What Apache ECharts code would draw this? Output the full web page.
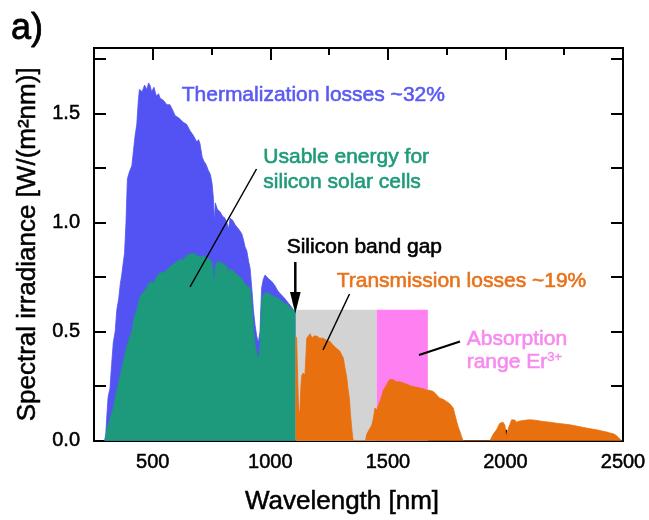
<!DOCTYPE html>
<html>
<head>
<meta charset="utf-8">
<script src="https://cdn.jsdelivr.net/npm/echarts@6/dist/echarts.min.js"></script>
<style>
html,body{margin:0;padding:0;background:#fff;}
#chart{width:649px;height:520px;}
</style>
</head>
<body>
<div id="chart"></div>
<script>
// ---- Data ----
// Full AM1.5 spectrum below the silicon band gap (thermalization losses, blue)
const blueWavelength = [295,300,305,310,318,325,332,340,347,355,362,368,375,380,386,392,400,411,418,425,432,438,443,455,465,475,482,488,495,505,515,525,531,545,560,573,587,595,610,629,644,659,672,687,695,701,710,718,725,736,745,752,758,762,766,775,786,796,807,815,822,829,840,850,857,865,878,886,892,900,908,914,921,928,935,942,949,956,960,963,970,978,985,995,1006,1020,1030,1041,1055,1070,1085,1098,1107];
const blueIrradiance = [0,0.03,0.12,0.2,0.24,0.35,0.45,0.5,0.6,0.65,0.72,0.76,0.82,0.86,1.0,1.2,1.23,1.26,1.33,1.40,1.45,1.55,1.61,1.60,1.63,1.61,1.64,1.63,1.60,1.62,1.58,1.59,1.57,1.56,1.54,1.54,1.51,1.49,1.48,1.46,1.45,1.42,1.40,1.37,1.38,1.36,1.30,1.28,1.27,1.24,1.22,1.18,1.11,1.00,1.09,1.06,1.05,1.03,1.02,1.00,0.97,1.02,1.01,0.99,0.99,0.97,0.95,0.92,0.89,0.87,0.82,0.79,0.70,0.60,0.53,0.48,0.45,0.50,0.62,0.70,0.74,0.76,0.75,0.74,0.73,0.71,0.69,0.675,0.66,0.64,0.62,0.60,0.59];

// Usable energy for silicon solar cells (green)
const greenWavelength = [298,305,315,332,345,355,368,380,392,403,411,420,432,446,460,474,481,495,502,515,531,545,559,575,590,602,615,630,645,659,672,687,701,715,725,744,752,758,762,766,775,786,800,815,822,829,840,850,860,871,880,892,900,914,921,928,935,942,949,956,960,963,970,985,1000,1015,1030,1041,1055,1070,1085,1098,1107];
const greenIrradiance = [0,0.05,0.09,0.15,0.22,0.27,0.33,0.39,0.44,0.48,0.50,0.56,0.60,0.66,0.68,0.70,0.72,0.73,0.72,0.75,0.77,0.77,0.78,0.80,0.81,0.82,0.83,0.83,0.85,0.855,0.86,0.85,0.84,0.85,0.84,0.83,0.82,0.75,0.72,0.80,0.82,0.82,0.81,0.80,0.77,0.79,0.78,0.77,0.76,0.75,0.74,0.72,0.71,0.70,0.62,0.52,0.44,0.40,0.37,0.43,0.55,0.64,0.67,0.68,0.67,0.66,0.655,0.645,0.635,0.625,0.61,0.60,0.59];

// Transmission losses above the band gap (orange)
const orangeWavelength = [1107,1112,1116,1120,1125,1130,1134,1140,1147,1150,1155,1162,1169,1178,1185,1197,1210,1225,1240,1254,1265,1275,1285,1296,1305,1310,1318,1325,1330,1336,1341,1346,1350,1353,1405,1410,1420,1431,1438,1445,1452,1459,1466,1473,1480,1486,1494,1501,1508,1515,1522,1536,1551,1565,1579,1600,1622,1645,1664,1680,1693,1707,1721,1735,1749,1763,1778,1785,1792,1800,1806,1813,1820,1934,1948,1962,1969,1976,1984,1990,1998,2003,2008,2013,2019,2026,2033,2040,2047,2054,2061,2076,2090,2104,2118,2140,2161,2190,2218,2245,2274,2300,2331,2360,2388,2410,2430,2445,2459,2470,2480,2494];
const orangeIrradiance = [0.48,0.47,0.30,0.15,0.12,0.25,0.30,0.31,0.30,0.36,0.47,0.48,0.49,0.47,0.48,0.48,0.47,0.47,0.46,0.455,0.44,0.43,0.42,0.41,0.39,0.38,0.33,0.29,0.24,0.195,0.12,0.06,0.02,0,0,0.03,0.05,0.07,0.10,0.15,0.14,0.16,0.18,0.20,0.23,0.24,0.255,0.27,0.28,0.275,0.28,0.27,0.27,0.265,0.26,0.25,0.245,0.24,0.233,0.23,0.226,0.21,0.195,0.19,0.18,0.17,0.15,0.12,0.09,0.06,0.044,0.02,0,0,0.03,0.05,0.058,0.08,0.089,0.085,0.07,0.02,0.02,0.06,0.075,0.096,0.10,0.095,0.085,0.088,0.09,0.093,0.095,0.096,0.095,0.092,0.088,0.085,0.08,0.077,0.073,0.068,0.061,0.055,0.05,0.045,0.04,0.035,0.032,0.025,0.015,0];

// Shaded ranges: [start nm, end nm, height]
const bandGapRange = [1107, 1452, 0.6];
const erbiumRange = [1452, 1670, 0.6];

// Axis ticks
const xMajorTicks = [500, 1000, 1500, 2000, 2500];
const xMinorTicks = [750, 1250, 1750, 2250];
const yTicks = [0.25, 0.5, 0.75, 1.0, 1.25, 1.5, 1.75];
const yLabels = [0, 0.5, 1.0, 1.5];

const FONT = 'Liberation Sans, Arial, Helvetica, sans-serif';
const C_BLUE = '#5353F3';
const C_GREEN = '#1C9A7B';
const C_ORANGE = '#E8700F';
const C_GRAY = '#D3D3D3';
const C_PINK = '#FF80F0';

function zip(a, b) { return a.map((v, i) => [v, b[i]]); }

const chart = echarts.init(document.getElementById('chart'), null, {renderer: 'canvas'});

const axisLine = {show: true, onZero: false, lineStyle: {color: '#000', width: 2}};

function xAxisDef(pos, ticks, len, showLabels, name) {
  return {
    type: 'value', min: 250, max: 2500, position: pos,
    axisLine: axisLine,
    axisTick: {show: true, inside: true, length: len, customValues: ticks, lineStyle: {color: '#000', width: 2}},
    axisLabel: showLabels ? {show: true, customValues: xMajorTicks, margin: 12, color: '#000', fontSize: 20, fontFamily: FONT,
      textBorderColor: '#000', textBorderWidth: 0.5, formatter: v => String(v)} : {show: false},
    splitLine: {show: false},
    name: name || '',
    nameLocation: 'middle', nameGap: 48,
    nameTextStyle: {fontSize: 26, fontFamily: FONT, color: '#000', padding: [0, 33, 0, 0], textBorderColor: '#000', textBorderWidth: 0.5}
  };
}
function yAxisDef(pos, showLabels, name) {
  return {
    type: 'value', min: 0, max: 1.8, position: pos,
    axisLine: axisLine,
    axisTick: {show: true, inside: true, length: 12, customValues: yTicks, lineStyle: {color: '#000', width: 2}},
    axisLabel: showLabels ? {show: true, customValues: yLabels, margin: 14, color: '#000', fontSize: 20, fontFamily: FONT,
      textBorderColor: '#000', textBorderWidth: 0.5, formatter: v => v.toFixed(1)} : {show: false},
    splitLine: {show: false},
    name: name || '',
    nameLocation: 'middle', nameGap: 48,
    nameTextStyle: {fontSize: 26, fontFamily: FONT, color: '#000', textBorderColor: '#000', textBorderWidth: 0.5}
  };
}

function areaSeries(name, data, color, z) {
  return {
    name: name, type: 'line', data: data, xAxisIndex: 0, yAxisIndex: 0,
    showSymbol: false, symbol: 'none', z: z, silent: true,
    lineStyle: {color: color, width: 0.8},
    areaStyle: {color: color, opacity: 1}
  };
}

function label(x, y, text, color, extra) {
  return Object.assign({type: 'text', x: x, y: y, z: 100,
    style: Object.assign({text: text, font: '21px ' + FONT, fill: color, verticalAlign: 'middle',
      stroke: color, lineWidth: 0.6}, extra || {})});
}

const option = {
  animation: false,
  backgroundColor: '#fff',
  grid: {left: 94, right: 26, top: 48, bottom: 77, containLabel: false},
  xAxis: [
    xAxisDef('bottom', xMajorTicks, 11, true, 'Wavelength [nm]'),
    xAxisDef('bottom', xMinorTicks, 6, false),
    xAxisDef('top', xMajorTicks, 12, false),
    xAxisDef('top', xMinorTicks, 7, false)
  ],
  yAxis: [
    yAxisDef('left', true, 'Spectral irradiance [W/(m\u00B2nm)]'),
    yAxisDef('right', false)
  ],
  series: [
    {
      type: 'custom', xAxisIndex: 0, yAxisIndex: 0, z: 1, silent: true,
      data: [bandGapRange.concat([0]), erbiumRange.concat([1])],
      encode: {x: [0, 1], y: 2},
      renderItem: function (params, api) {
        const p0 = api.coord([api.value(0), api.value(2)]);
        const p1 = api.coord([api.value(1), 0]);
        return {type: 'rect', shape: {x: p0[0], y: p0[1], width: p1[0] - p0[0], height: p1[1] - p0[1]},
          style: {fill: api.value(3) === 0 ? C_GRAY : C_PINK}};
      }
    },
    areaSeries('Thermalization losses', zip(blueWavelength, blueIrradiance), C_BLUE, 2),
    areaSeries('Usable energy', zip(greenWavelength, greenIrradiance), C_GREEN, 3),
    areaSeries('Transmission losses', zip(orangeWavelength, orangeIrradiance), C_ORANGE, 4)
  ],
  graphic: [
    {type: 'text', x: 11, y: 29, z: 100, style: {text: 'a)', font: '36px ' + FONT, fill: '#000', verticalAlign: 'middle', stroke: '#000', lineWidth: 0.8}},
    label(181.7, 95.3, 'Thermalization losses ~32%', '#5A5AF2'),
    label(263.3, 157.5, 'Usable energy for', '#1F9A7A'),
    label(263.3, 182.5, 'silicon solar cells', '#1F9A7A'),
    label(286.7, 247.5, 'Silicon band gap', '#000'),
    label(336.7, 280.8, 'Transmission losses ~19%', '#E8721A'),
    label(466.7, 339.2, 'Absorption', '#F78AEE'),
    label(466.7, 362.5, 'range Er{sup|3+}', '#F78AEE', {lineHeight: 24,
      rich: {sup: {fontSize: 13, fontFamily: FONT, fill: '#F78AEE', stroke: '#F78AEE', lineWidth: 0.4, verticalAlign: 'top', lineHeight: 13}}}),
    {type: 'line', z: 100, shape: {x1: 256.5, y1: 169, x2: 190, y2: 287}, style: {stroke: '#000', lineWidth: 1.5}},
    {type: 'line', z: 100, shape: {x1: 349.5, y1: 294, x2: 323, y2: 350}, style: {stroke: '#000', lineWidth: 1.5}},
    {type: 'line', z: 100, shape: {x1: 460, y1: 341.5, x2: 419, y2: 355}, style: {stroke: '#000', lineWidth: 2}},
    {type: 'line', z: 100, shape: {x1: 295.3, y1: 262, x2: 295.3, y2: 297}, style: {stroke: '#000', lineWidth: 2.5}},
    {type: 'polygon', z: 100, shape: {points: [[290, 292], [300.6, 292], [295.3, 313.5]]}, style: {fill: '#000'}}
  ]
};
chart.setOption(option);
</script>
</body>
</html>
